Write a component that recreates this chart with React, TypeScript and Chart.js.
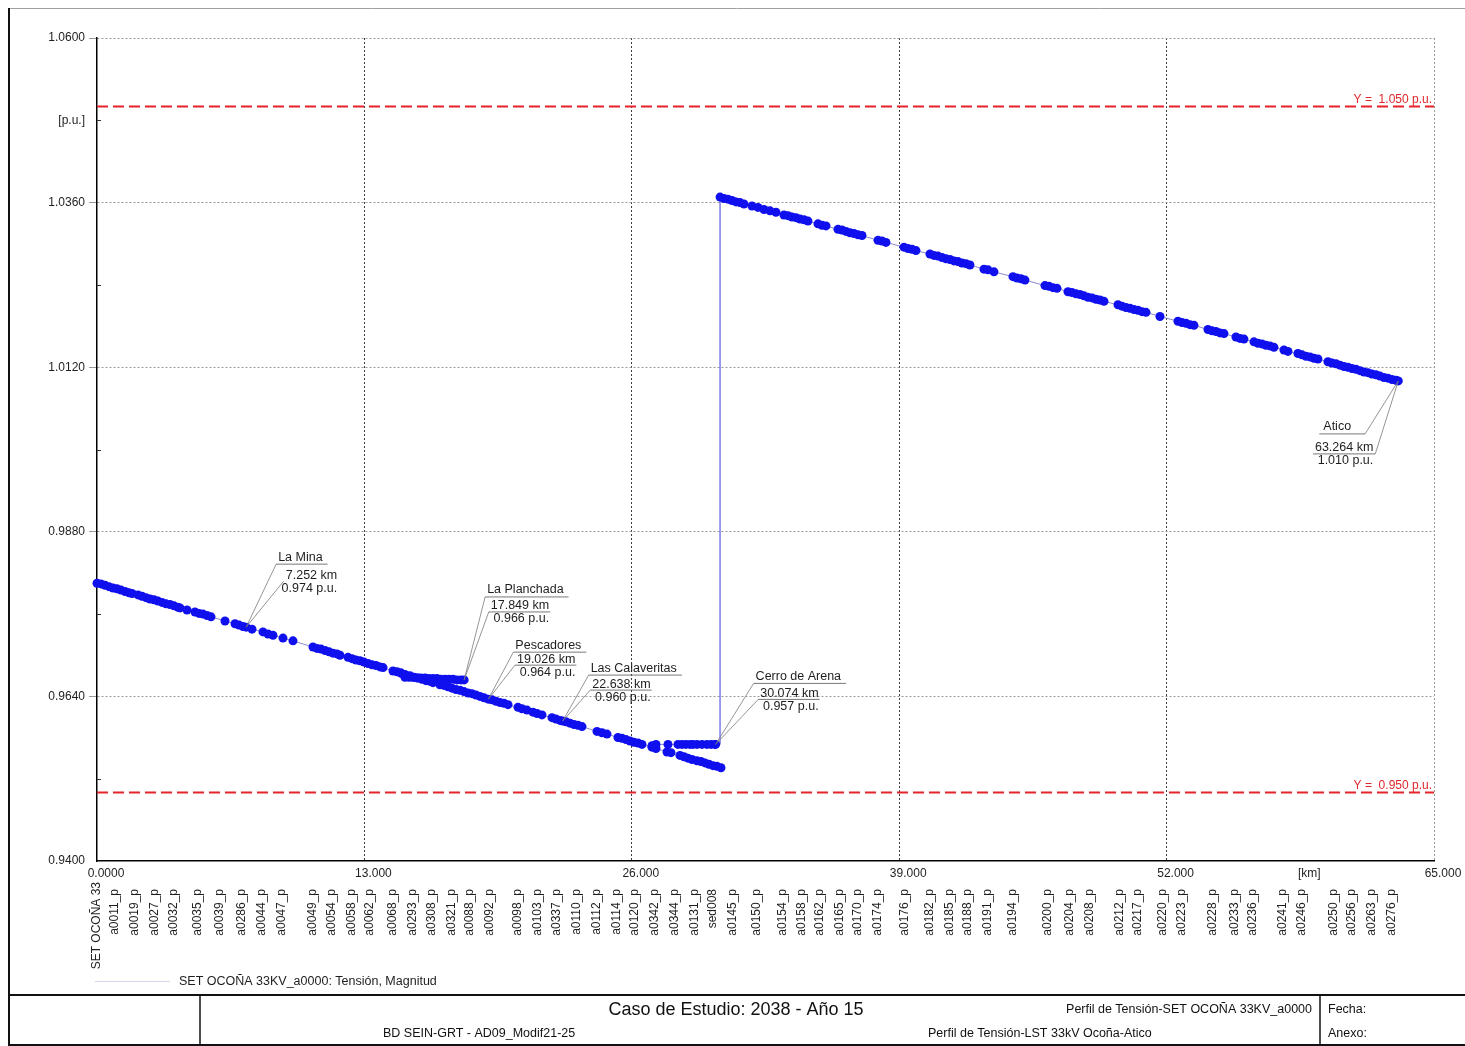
import React, { useEffect, useRef } from "react";
import { Chart, registerables } from "chart.js";

Chart.register(...registerables);

const FONT = '"Liberation Sans", Arial, sans-serif';
const CANVAS_W = 1465;
const CANVAS_H = 1046;

// Voltage profile: [distance km, voltage p.u.]
// SET Ocoña 33kV towards sed008 (main feeder, lower section)
const lowerFeeder: [number, number][] = [
  [0, 0.9805], [0.194, 0.9804], [0.389, 0.9802], [0.583, 0.98], [0.778, 0.9798], [0.972, 0.9797],
  [1.167, 0.9795], [1.361, 0.9793], [1.556, 0.9791], [1.702, 0.979], [1.993, 0.9788], [2.188, 0.9786],
  [2.382, 0.9784], [2.577, 0.9782], [2.771, 0.9781], [2.966, 0.9779], [3.16, 0.9777], [3.355, 0.9775],
  [3.549, 0.9774], [3.743, 0.9772], [3.938, 0.977], [4.035, 0.9769], [4.375, 0.9766], [4.764, 0.9763],
  [4.959, 0.9761], [5.153, 0.976], [5.348, 0.9758], [5.542, 0.9756], [6.223, 0.975], [6.709, 0.9746],
  [6.904, 0.9744], [7.098, 0.9742], [7.252, 0.9741], [7.535, 0.9738], [8.07, 0.9734], [8.313, 0.9731],
  [8.556, 0.9729], [9.042, 0.9725], [9.528, 0.9721], [10.501, 0.9712], [10.695, 0.971], [10.89, 0.9709],
  [11.084, 0.9707], [11.279, 0.9705], [11.473, 0.9703], [11.668, 0.9702], [11.813, 0.97], [12.202, 0.9697],
  [12.397, 0.9695], [12.591, 0.9693], [12.786, 0.9692], [12.98, 0.969], [13.175, 0.9688], [13.369, 0.9686],
  [13.563, 0.9685], [13.758, 0.9683], [13.904, 0.9682], [14.39, 0.9677], [14.585, 0.9676], [14.779, 0.9674],
  [14.973, 0.9672], [15.216, 0.967], [15.411, 0.9668], [15.605, 0.9667], [15.8, 0.9665], [15.994, 0.9663],
  [16.189, 0.9662], [16.335, 0.966], [16.675, 0.9657], [16.869, 0.9656], [17.064, 0.9654], [17.258, 0.9652],
  [17.453, 0.965], [17.647, 0.9649], [17.841, 0.9647], [18.036, 0.9645], [18.23, 0.9644], [18.425, 0.9642],
  [18.619, 0.964], [18.814, 0.9638], [19.026, 0.9636], [19.203, 0.9635], [19.397, 0.9633], [19.592, 0.9631],
  [19.786, 0.963], [19.981, 0.9628], [20.467, 0.9624], [20.661, 0.9622], [20.904, 0.962], [21.196, 0.9617],
  [21.39, 0.9615], [21.633, 0.9613], [22.12, 0.9609], [22.314, 0.9607], [22.509, 0.9605], [22.638, 0.9604],
  [22.8, 0.9603], [22.995, 0.9601], [23.189, 0.9599], [23.384, 0.9598], [23.578, 0.9596], [24.307, 0.9589],
  [24.55, 0.9587], [24.793, 0.9585], [25.328, 0.958], [25.523, 0.9579], [25.717, 0.9577], [25.912, 0.9575],
  [26.106, 0.9573], [26.301, 0.9572], [26.495, 0.957], [26.981, 0.9566], [27.176, 0.9564], [27.71, 0.9559],
  [27.905, 0.9558], [28.342, 0.9554], [28.537, 0.9552], [28.731, 0.955], [28.926, 0.9548], [29.169, 0.9546],
  [29.363, 0.9545], [29.558, 0.9543], [29.752, 0.9541], [29.947, 0.9539], [30.141, 0.9538], [30.336, 0.9536],
];

// Branch towards La Planchada
const planchadaBranch: [number, number][] = [
  [14.779, 0.9674], [14.973, 0.9668], [15.17, 0.9668], [15.36, 0.9668], [15.56, 0.9667], [15.75, 0.9667],
  [15.95, 0.9667], [16.14, 0.9666], [16.33, 0.9666], [16.53, 0.9666], [16.72, 0.9665], [16.92, 0.9665],
  [17.11, 0.9665], [17.31, 0.9665], [17.5, 0.9664], [17.7, 0.9664], [17.849, 0.9664],
];

// Branch towards Cerro de Arena
const arenaBranch: [number, number][] = [
  [26.981, 0.9568], [27.176, 0.957], [27.759, 0.957], [28.245, 0.957], [28.44, 0.957], [28.63, 0.957],
  [28.83, 0.957], [28.97, 0.957], [29.17, 0.957], [29.41, 0.957], [29.65, 0.957], [29.85, 0.957],
  [30.04, 0.957], [30.074, 0.957],
];

// Voltage step at sed008
const regulatorStep: [number, number][] = [[30.074, 0.957], [30.29, 0.957], [30.29, 1.0368]];

// sed008 towards Atico
const upperFeeder: [number, number][] = [
  [30.29, 1.0368], [30.481, 1.0366], [30.676, 1.0365], [30.87, 1.0363], [31.065, 1.0361], [31.259, 1.036],
  [31.454, 1.0358], [31.843, 1.0355], [32.134, 1.0353], [32.426, 1.035], [32.718, 1.0348], [33.009, 1.0346],
  [33.398, 1.0342], [33.593, 1.0341], [33.787, 1.0339], [33.982, 1.0338], [34.176, 1.0336], [34.371, 1.0335],
  [34.565, 1.0333], [35.051, 1.0329], [35.246, 1.0327], [35.44, 1.0326], [36.023, 1.0321], [36.218, 1.032],
  [36.412, 1.0318], [36.607, 1.0316], [36.801, 1.0315], [36.996, 1.0313], [37.19, 1.0312], [37.968, 1.0305],
  [38.162, 1.0304], [38.357, 1.0302], [39.232, 1.0295], [39.426, 1.0293], [39.621, 1.0292], [39.815, 1.029],
  [40.496, 1.0285], [40.69, 1.0283], [40.885, 1.0282], [41.079, 1.028], [41.274, 1.0278], [41.468, 1.0277],
  [41.663, 1.0275], [41.857, 1.0274], [42.051, 1.0272], [42.246, 1.0271], [42.44, 1.0269], [43.121, 1.0263],
  [43.316, 1.0262], [43.607, 1.0259], [44.531, 1.0252], [44.725, 1.025], [44.92, 1.0249], [45.114, 1.0247],
  [46.087, 1.0239], [46.281, 1.0238], [46.476, 1.0236], [46.67, 1.0235], [47.205, 1.023], [47.399, 1.0229],
  [47.594, 1.0227], [47.788, 1.0226], [47.983, 1.0224], [48.177, 1.0222], [48.372, 1.0221], [48.566, 1.0219],
  [48.76, 1.0218], [48.955, 1.0216], [49.636, 1.0211], [49.83, 1.0209], [50.024, 1.0207], [50.219, 1.0206],
  [50.413, 1.0204], [50.608, 1.0203], [50.802, 1.0201], [50.997, 1.02], [51.677, 1.0194], [52.552, 1.0187],
  [52.747, 1.0185], [52.941, 1.0184], [53.136, 1.0182], [53.33, 1.0181], [54.011, 1.0175], [54.205, 1.0173],
  [54.4, 1.0172], [54.594, 1.017], [54.789, 1.0169], [55.372, 1.0164], [55.566, 1.0162], [55.761, 1.0161],
  [56.247, 1.0157], [56.441, 1.0155], [56.636, 1.0154], [56.83, 1.0152], [57.025, 1.0151], [57.219, 1.0149],
  [57.705, 1.0145], [57.9, 1.0143], [58.386, 1.014], [58.58, 1.0138], [58.775, 1.0136], [58.969, 1.0135],
  [59.164, 1.0133], [59.358, 1.0132], [59.844, 1.0128], [60.039, 1.0126], [60.233, 1.0125], [60.428, 1.0123],
  [60.622, 1.0121], [60.817, 1.012], [61.011, 1.0118], [61.206, 1.0117], [61.4, 1.0115], [61.595, 1.0113],
  [61.789, 1.0112], [61.984, 1.011], [62.178, 1.0109], [62.373, 1.0107], [62.567, 1.0105], [62.762, 1.0104],
  [62.956, 1.0102], [63.15, 1.0101], [63.264, 1.01],
];

// Voltage limits (p.u.)
const voltageLimits = [1.05, 0.95];

// Axis ranges and tick spacing
const kmRange = [0, 65];
const kmStep = 6.5;
const puRange = [0.94, 1.06];
const puStep = 0.012;

// Node names along the distance axis: [name, km]
const nodeLabels: [string, number][] = [
  ["SET OCOÑA 33", 0], ["a0011_p", 0.875], ["a0019_p", 1.847], ["a0027_p", 2.82], ["a0032_p", 3.743],
  ["a0035_p", 4.91], ["a0039_p", 5.98], ["a0286_p", 7.049], ["a0044_p", 8.021], ["a0047_p", 8.994],
  ["a0049_p", 10.501], ["a0054_p", 11.424], ["a0058_p", 12.397], ["a0062_p", 13.272], ["a0068_p", 14.39],
  ["a0293_p", 15.362], ["a0308_p", 16.286], ["a0321_p", 17.258], ["a0088_p", 18.133], ["a0092_p", 19.106],
  ["a0098_p", 20.467], ["a0103_p", 21.439], ["a0337_p", 22.363], ["a0110_p", 23.335], ["a0112_p", 24.307],
  ["a0114_p", 25.28], ["a0120_p", 26.155], ["a0342_p", 27.127], ["a0344_p", 28.099], ["a0131_p", 29.072],
  ["sed008", 29.947], ["a0145_p", 30.919], ["a0150_p", 32.086], ["a0154_p", 33.35], ["a0158_p", 34.273],
  ["a0162_p", 35.148], ["a0165_p", 36.121], ["a0170_p", 36.996], ["a0174_p", 37.968], ["a0176_p", 39.281],
  ["a0182_p", 40.496], ["a0185_p", 41.468], ["a0188_p", 42.343], ["a0191_p", 43.316], ["a0194_p", 44.531],
  ["a0200_p", 46.232], ["a0204_p", 47.302], ["a0208_p", 48.274], ["a0212_p", 49.733], ["a0217_p", 50.608],
  ["a0220_p", 51.823], ["a0223_p", 52.747], ["a0228_p", 54.254], ["a0233_p", 55.323], ["a0236_p", 56.198],
  ["a0241_p", 57.657], ["a0246_p", 58.58], ["a0250_p", 60.131], ["a0256_p", 61.011], ["a0263_p", 61.984],
  ["a0276_p", 62.956],
];

// Named substations with their position on the profile
const calloutNames = ["La Mina", "La Planchada", "Pescadores", "Las Calaveritas", "Cerro de Arena", "Atico"];
const calloutKm = [7.252, 17.849, 19.026, 22.638, 30.074, 63.264];

// Callout placement relative to the marked node (pixels)
const calloutLayout = [
  { nameDx: 32, nameDy: -70, valDx: 91, valDy: -52, underlineKm: false },
  { nameDx: 23, nameDy: -90, valDx: 85, valDy: -74, underlineKm: true },
  { nameDx: 27, nameDy: -54, valDx: 87, valDy: -40, underlineKm: true },
  { nameDx: 28, nameDy: -53, valDx: 88, valDy: -37, underlineKm: true },
  { nameDx: 40, nameDy: -68, valDx: 103, valDy: -51, underlineKm: true },
  { nameDx: -75, nameDy: 46, valDx: -25, valDy: 67, underlineKm: true },
];

const seriesName = "SET OCOÑA 33KV_a0000: Tensión, Magnitud";

const toPoints = (rows: [number, number][]) => rows.map(([x, y]) => ({ x, y }));

const allProfilePoints = [...lowerFeeder, ...planchadaBranch, ...arenaBranch, ...upperFeeder];
const puAt = (km: number) => {
  const hit = allProfilePoints.find((p) => Math.abs(p[0] - km) < 1e-9);
  return hit ? hit[1] : NaN;
};

const dotStyle = {
  showLine: true,
  borderColor: "rgba(110,110,195,0.8)",
  borderWidth: 1,
  pointRadius: 4.5,
  pointHoverRadius: 4.5,
  pointBackgroundColor: "#1010ee",
  pointBorderWidth: 0,
  clip: false as const,
  order: 1,
};

const line = (ctx: CanvasRenderingContext2D, x1: number, y1: number, x2: number, y2: number) => {
  ctx.beginPath();
  ctx.moveTo(x1, y1);
  ctx.lineTo(x2, y2);
  ctx.stroke();
};

const decorPlugin = {
  id: "decor",
  beforeDraw(chart: any) {
    const ctx: CanvasRenderingContext2D = chart.ctx;
    ctx.save();
    ctx.fillStyle = "#ffffff";
    ctx.fillRect(0, 0, chart.width, chart.height);
    ctx.restore();
  },
  afterDatasetsDraw(chart: any) {
    const ctx: CanvasRenderingContext2D = chart.ctx;
    const xs = chart.scales.x;
    const ys = chart.scales.y;
    const area = chart.chartArea;
    ctx.save();
    ctx.font = `12px ${FONT}`;
    ctx.textBaseline = "middle";

    // limit labels
    ctx.fillStyle = "#e0262b";
    ctx.textAlign = "right";
    voltageLimits.forEach((v) => {
      ctx.fillText(`Y =  ${v.toFixed(3)} p.u.`, area.right - 2, ys.getPixelForValue(v) - 7);
    });

    // minor y ticks inside the axis
    ctx.strokeStyle = "#333";
    ctx.lineWidth = 1;
    ys.ticks.forEach((t: any, i: number) => {
      if (i % 2 === 1) {
        const py = Math.round(ys.getPixelForValue(t.value)) + 0.5;
        line(ctx, area.left, py, area.left + 4, py);
      }
    });

    // callouts
    ctx.font = `12.5px ${FONT}`;
    calloutNames.forEach((name, i) => {
      const km = calloutKm[i];
      const pu = puAt(km);
      const L = calloutLayout[i];
      const ax = xs.getPixelForValue(km);
      const ay = ys.getPixelForValue(pu);
      const kmText = `${km.toFixed(3)} km`;
      const puText = `${pu.toFixed(3)} p.u.`;
      const nameW = ctx.measureText(name).width;
      const kmW = ctx.measureText(kmText).width;
      const nameL = ax + L.nameDx;
      const nameY = ay + L.nameDy;
      const valR = ax + L.valDx;
      const kmY = ay + L.valDy;
      const puY = kmY + 13;
      const ulName = nameY + 7;
      const ulKm = kmY + 6;
      const leftSide = L.nameDx < 0;

      ctx.strokeStyle = "#7a7a7a";
      ctx.lineWidth = 0.8;
      if (leftSide) {
        const nEnd = nameL + nameW + 14;
        line(ctx, ax, ay, nEnd, ulName);
        line(ctx, ax, ay, valR + 2, ulKm);
        ctx.strokeStyle = "#555";
        line(ctx, nameL - 4, ulName, nEnd, ulName);
        if (L.underlineKm) line(ctx, valR - kmW - 2, ulKm, valR + 2, ulKm);
      } else {
        line(ctx, ax, ay, nameL - 2, ulName);
        line(ctx, ax, ay, valR - kmW - 2, ulKm);
        ctx.strokeStyle = "#555";
        line(ctx, nameL - 2, ulName, nameL + nameW + 5, ulName);
        if (L.underlineKm) line(ctx, valR - kmW - 2, ulKm, valR + 1, ulKm);
      }
      ctx.fillStyle = "#1e1e1e";
      ctx.textAlign = "left";
      ctx.fillText(name, nameL, nameY);
      ctx.textAlign = "right";
      ctx.fillText(kmText, valR, kmY);
      ctx.fillText(puText, valR, puY);
    });
    ctx.restore();
  },
  afterDraw(chart: any) {
    const ctx: CanvasRenderingContext2D = chart.ctx;
    const xs = chart.scales.x;
    ctx.save();

    // node names under the distance axis
    ctx.fillStyle = "#1e1e1e";
    ctx.font = `12px ${FONT}`;
    ctx.textAlign = "right";
    ctx.textBaseline = "middle";
    nodeLabels.forEach(([name, km], i) => {
      ctx.save();
      ctx.translate(Math.round(xs.getPixelForValue(km)), i === 0 ? 882 : 889);
      ctx.rotate(-Math.PI / 2);
      ctx.fillText(name, 0, 0);
      ctx.restore();
    });

    // legend entry
    ctx.strokeStyle = "#d4d8e8";
    ctx.lineWidth = 1;
    line(ctx, 95, 981.5, 170, 981.5);
    ctx.font = `12.5px ${FONT}`;
    ctx.textAlign = "left";
    ctx.fillText(seriesName, 179, 982);

    // drawing frame and title block
    ctx.strokeStyle = "#a0a0a0";
    ctx.lineWidth = 1;
    line(ctx, 8, 8.5, CANVAS_W, 8.5);
    ctx.strokeStyle = "#111";
    ctx.lineWidth = 2;
    line(ctx, 9, 8, 9, CANVAS_H);
    line(ctx, 9, 995, CANVAS_W, 995);
    line(ctx, 9, 1045, CANVAS_W, 1045);
    ctx.lineWidth = 1.5;
    line(ctx, 200, 995, 200, CANVAS_H);
    line(ctx, 1320, 995, 1320, CANVAS_H);

    ctx.fillStyle = "#111";
    ctx.font = `18px ${FONT}`;
    ctx.textAlign = "center";
    ctx.fillText("Caso de Estudio: 2038 - Año 15", 736, 1010);
    ctx.font = `12.5px ${FONT}`;
    ctx.textAlign = "right";
    ctx.fillText("Perfil de Tensión-SET OCOÑA 33KV_a0000", 1312, 1010);
    ctx.textAlign = "left";
    ctx.fillText("BD SEIN-GRT - AD09_Modif21-25", 383, 1034);
    ctx.fillText("Perfil de Tensión-LST 33kV Ocoña-Atico", 928, 1034);
    ctx.fillText("Fecha:", 1328, 1010);
    ctx.fillText("Anexo:", 1328, 1034);
    ctx.restore();
  },
};

export default function App() {
  const canvasRef = useRef<HTMLCanvasElement>(null);

  useEffect(() => {
    const canvas = canvasRef.current;
    if (!canvas) return;
    const chart = new Chart(canvas, {
      type: "scatter",
      data: {
        datasets: [
          { label: seriesName, data: toPoints(lowerFeeder), ...dotStyle },
          { label: "La Planchada", data: toPoints(planchadaBranch), ...dotStyle },
          { label: "Cerro de Arena", data: toPoints(arenaBranch), ...dotStyle },
          { label: "Atico", data: toPoints(upperFeeder), ...dotStyle },
          {
            label: "sed008",
            data: toPoints(regulatorStep),
            showLine: true,
            borderColor: "#3a3ad8",
            borderWidth: 1,
            pointRadius: 0,
            order: 3,
          },
          ...voltageLimits.map((v) => ({
            label: `Y = ${v}`,
            data: [{ x: kmRange[0], y: v }, { x: kmRange[1], y: v }],
            showLine: true,
            borderColor: "#e4242a",
            borderWidth: 2,
            borderDash: [11, 5],
            pointRadius: 0,
            order: 5,
          })),
        ],
      },
      options: {
        responsive: false,
        animation: false,
        devicePixelRatio: 1,
        events: [],
        layout: { padding: { left: 0, top: 38, right: 31, bottom: 0 } },
        plugins: { legend: { display: false }, tooltip: { enabled: false } },
        scales: {
          x: {
            type: "linear",
            min: kmRange[0],
            max: kmRange[1],
            afterFit: (s: any) => {
              s.height = 185;
            },
            ticks: {
              stepSize: kmStep,
              autoSkip: false,
              maxRotation: 0,
              minRotation: 0,
              padding: 5,
              labelOffset: 9,
              color: "#1e1e1e",
              font: { family: FONT, size: 12 },
              callback: (_v: any, i: number) => {
                if (i === 0) return "0.0000";
                if (i === 9) return "[km]";
                return i % 2 === 0 ? (i * kmStep).toFixed(3) : "";
              },
            },
            grid: {
              drawTicks: false,
              lineWidth: 1,
              color: (c: any) => {
                const i = c.index;
                if (i === 10) return "#9a9a9a";
                if (i > 0 && i % 2 === 0) return "#3c3c3c";
                return "rgba(0,0,0,0)";
              },
            },
            border: { display: true, color: "#000", width: 1.5, dash: [2, 2] },
          },
          y: {
            type: "linear",
            min: puRange[0],
            max: puRange[1],
            afterFit: (s: any) => {
              s.width = 97;
            },
            ticks: {
              stepSize: puStep,
              autoSkip: false,
              padding: 4,
              color: "#1e1e1e",
              font: { family: FONT, size: 12 },
              callback: (v: any, i: number) => {
                if (i === 9) return "[p.u.]";
                return i % 2 === 0 ? Number(v).toFixed(4) : "";
              },
            },
            grid: {
              drawTicks: true,
              tickLength: 8,
              lineWidth: 1,
              color: (c: any) => {
                const i = c.index;
                if (i === 0 || i % 2 === 1) return "rgba(0,0,0,0)";
                return "#9a9a9a";
              },
              tickColor: (c: any) => (c.index % 2 === 0 && c.index > 0 ? "#9a9a9a" : "rgba(0,0,0,0)"),
            },
            border: { display: true, color: "#000", width: 1.5, dash: [2, 2] },
          },
        },
      },
      plugins: [decorPlugin],
    } as any);
    return () => chart.destroy();
  }, []);

  return (
    <div style={{ position: "absolute", left: 0, top: 0, width: CANVAS_W, height: CANVAS_H, background: "#fff" }}>
      <canvas ref={canvasRef} width={CANVAS_W} height={CANVAS_H} style={{ display: "block", width: CANVAS_W, height: CANVAS_H }} />
    </div>
  );
}
